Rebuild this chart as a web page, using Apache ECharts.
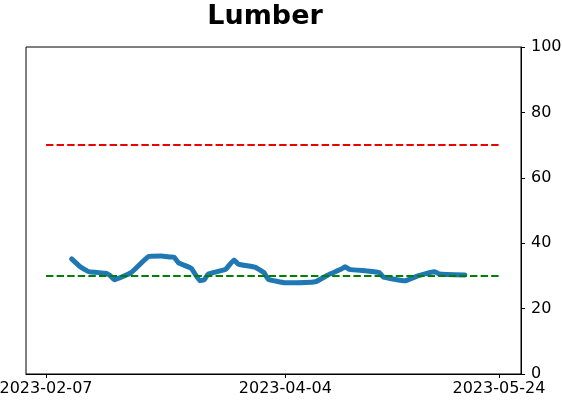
<!DOCTYPE html>
<html>
<head>
<meta charset="utf-8">
<script src="https://cdn.jsdelivr.net/npm/echarts@6/dist/echarts.min.js"></script>
<style>
  html, body { margin: 0; padding: 0; background: #fff; }
  #chart { width: 562px; height: 402px; }
</style>
</head>
<body>
<div id="chart"></div>
<script>
// data
var dates = ['2023-02-13','2023-02-15','2023-02-17','2023-02-21','2023-02-22','2023-02-23','2023-02-25',
  '2023-02-27','2023-02-28','2023-03-03','2023-03-06','2023-03-08','2023-03-09','2023-03-10','2023-03-13',
  '2023-03-15','2023-03-16','2023-03-17','2023-03-21','2023-03-23','2023-03-24','2023-03-28','2023-03-30',
  '2023-03-31','2023-04-04','2023-04-11','2023-04-14','2023-04-17','2023-04-18','2023-04-19','2023-04-23',
  '2023-04-26','2023-04-27','2023-05-02','2023-05-05','2023-05-09','2023-05-10','2023-05-16'];
var values = [35.2, 32.8, 31.3, 30.8, 30.1, 28.8, 29.8,
  31.1, 32.3, 35.9, 36.1, 35.8, 35.7, 34.0, 32.3,
  28.5, 28.8, 30.6, 32.0, 34.9, 33.6, 32.6, 31.0,
  29.0, 27.9, 28.2, 30.3, 32.0, 32.8, 32.0, 31.5,
  31.0, 29.6, 28.5, 30.0, 31.3, 30.6, 30.3];
var lineStart = '2023-02-07';
var lineEnd = '2023-05-24';
var upperLevel = 70;
var lowerLevel = 30;
var xTicks = ['2023-02-07', '2023-04-04', '2023-05-24'];

var DAY = 86400000;
function ts(s) { return new Date(s + 'T00:00:00Z').getTime(); }
function pad(n) { return (n < 10 ? '0' : '') + n; }
function fmt(v) {
  var d = new Date(v);
  return d.getUTCFullYear() + '-' + pad(d.getUTCMonth() + 1) + '-' + pad(d.getUTCDate());
}

var chart = echarts.init(document.getElementById('chart'));
var font = 'DejaVu Sans';

var option = {
  backgroundColor: '#fff',
  animation: false,
  title: {
    text: 'Lumber',
    left: 260,
    top: -2,
    textAlign: 'center',
    textStyle: { fontFamily: font, fontWeight: 'bold', fontSize: 27, color: '#000' }
  },
  grid: {
    left: 26, right: 41, top: 47, bottom: 28,
    outerBoundsMode: 'none',
    show: true, borderColor: '#000', borderWidth: 1
  },
  xAxis: {
    type: 'value',
    min: ts(lineStart) - 4.68 * DAY,
    max: ts(lineEnd) + 5.15 * DAY,
    splitLine: { show: false },
    axisLine: { show: true, onZero: false, lineStyle: { color: '#000', width: 1 } },
    axisTick: { show: true, length: 4, customValues: xTicks.map(ts), lineStyle: { color: '#000' } },
    axisLabel: {
      customValues: xTicks.map(ts),
      formatter: function (v) { return fmt(v); },
      fontFamily: font, fontSize: 16, color: '#000', margin: 7
    }
  },
  yAxis: {
    type: 'value',
    position: 'right',
    min: 0, max: 100, interval: 20,
    splitLine: { show: false },
    axisLine: { show: true, lineStyle: { color: '#000', width: 1 } },
    axisTick: { show: true, length: 4, lineStyle: { color: '#000' } },
    axisLabel: { fontFamily: font, fontSize: 16, color: '#000', margin: 10 }
  },
  series: [
    {
      type: 'line',
      data: [[ts(lineStart), upperLevel], [ts(lineEnd), upperLevel]],
      symbol: 'none',
      lineStyle: { color: '#ee0000', width: 2, type: [7.4, 3.2] },
      z: 2
    },
    {
      type: 'line',
      data: [[ts(lineStart), lowerLevel], [ts(lineEnd), lowerLevel]],
      symbol: 'none',
      lineStyle: { color: '#008000', width: 2, type: [7.4, 3.2] },
      z: 4
    },
    {
      type: 'line',
      data: dates.map(function (d, i) { return [ts(d), values[i]]; }),
      symbol: 'none',
      smooth: 0.1,
      lineStyle: { color: '#1f77b4', width: 5, cap: 'round', join: 'round' },
      z: 3
    }
  ]
};

chart.setOption(option);
</script>
</body>
</html>
